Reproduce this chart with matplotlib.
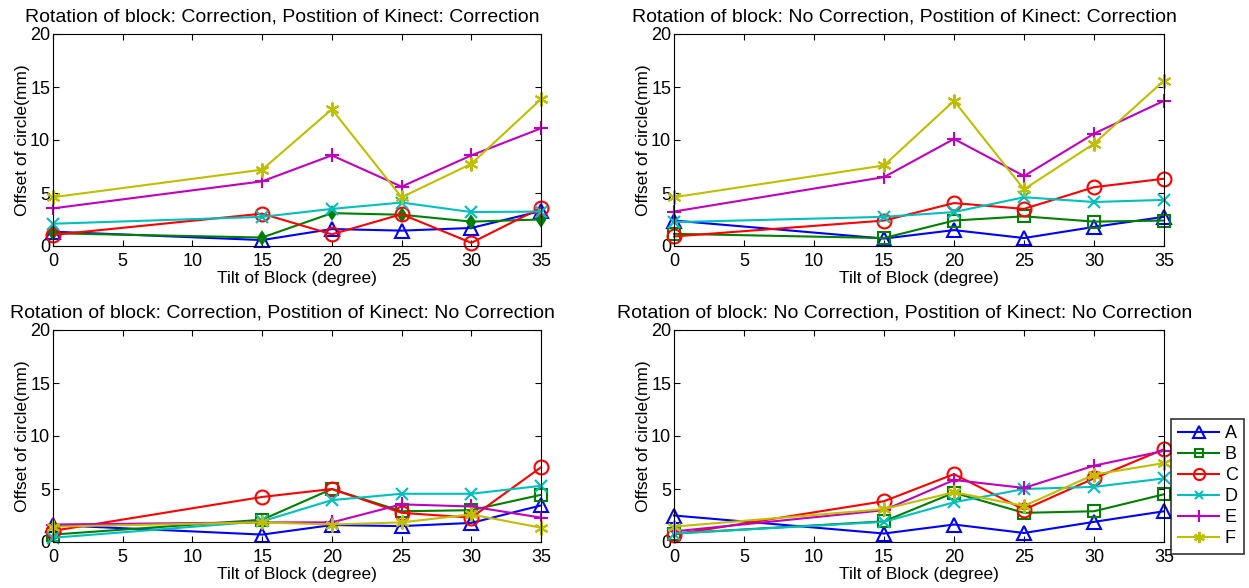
import matplotlib
matplotlib.use("Agg")
import matplotlib.pyplot as plt

plt.rcParams['font.family'] = ['Liberation Sans', 'DejaVu Sans']

# Tilt angles (x axis)
tilt = [0, 15, 20, 25, 30, 35]
labels = ['A', 'B', 'C', 'D', 'E', 'F']

titles = [
    'Rotation of block: Correction, Postition of Kinect: Correction',
    'Rotation of block: No Correction, Postition of Kinect: Correction',
    'Rotation of block: Correction, Postition of Kinect: No Correction',
    'Rotation of block: No Correction, Postition of Kinect: No Correction',
]

# rot corr / kinect corr
cc_A = [1.35, 0.56, 1.6, 1.45, 1.7, 3.3]
cc_B = [1.2, 0.8, 3.1, 2.95, 2.3, 2.5]
cc_C = [1.05, 3.05, 1.1, 3.0, 0.3, 3.6]
cc_D = [2.1, 2.75, 3.5, 4.1, 3.2, 3.25]
cc_E = [3.55, 6.1, 8.55, 5.6, 8.55, 11.1]
cc_F = [4.6, 7.2, 12.9, 4.6, 7.75, 13.85]

# rot no corr / kinect corr
nc_A = [2.4, 0.7, 1.5, 0.75, 1.8, 2.75]
nc_B = [1.15, 0.75, 2.4, 2.8, 2.3, 2.4]
nc_C = [0.9, 2.4, 4.05, 3.5, 5.55, 6.35]
nc_D = [2.25, 2.75, 3.2, 4.6, 4.15, 4.35]
nc_E = [3.25, 6.5, 10.1, 6.6, 10.6, 13.7]
nc_F = [4.6, 7.6, 13.7, 5.35, 9.65, 15.6]

# rot corr / kinect no corr
cn_A = [1.6, 0.7, 1.6, 1.5, 1.8, 3.45]
cn_B = [0.7, 2.1, 5.0, 2.9, 3.0, 4.45]
cn_C = [1.05, 4.25, 5.0, 2.75, 2.3, 7.05]
cn_D = [0.4, 1.95, 3.95, 4.55, 4.55, 5.3]
cn_E = [1.65, 1.85, 1.85, 3.55, 3.35, 2.3]
cn_F = [1.45, 1.85, 1.65, 1.85, 2.6, 1.35]

# rot no corr / kinect no corr
nn_A = [2.5, 0.8, 1.65, 0.85, 1.9, 2.9]
nn_B = [0.8, 1.95, 4.65, 2.75, 2.9, 4.5]
nn_C = [0.7, 3.85, 6.4, 3.05, 6.0, 8.75]
nn_D = [0.8, 1.9, 3.75, 5.0, 5.2, 6.0]
nn_E = [1.0, 3.0, 5.85, 5.1, 7.2, 8.6]
nn_F = [1.45, 3.1, 4.7, 3.4, 6.35, 7.45]

panels = [
    [cc_A, cc_B, cc_C, cc_D, cc_E, cc_F],
    [nc_A, nc_B, nc_C, nc_D, nc_E, nc_F],
    [cn_A, cn_B, cn_C, cn_D, cn_E, cn_F],
    [nn_A, nn_B, nn_C, nn_D, nn_E, nn_F],
]

colors = ['#0000ff', '#008000', '#ff0000', '#00bfbf', '#bf00bf', '#bfbf00']
markers = ['^', 's', 'o', 'x', '+', (6, 2, 0)]
msizes = [10, 8, 10, 8, 10, 10]

fig = plt.figure(figsize=(12.49, 5.88), dpi=100)

# axes boxes in pixels: left, top, right, bottom
boxes = [(53, 34, 541, 246), (674, 34, 1164, 246),
         (53, 330, 541, 542), (674, 330, 1164, 542)]

lines = []
for k, (l, t, r, b) in enumerate(boxes):
    ax = fig.add_axes([l / 1249, 1 - b / 588, (r - l) / 1249, (b - t) / 588])
    for i, series in enumerate(panels[k]):
        mk = markers[i]
        ms = msizes[i]
        filled = False
        if k == 0 and i == 1:
            # this panel uses small filled diamonds for B
            mk = 'd'
            ms = 6
            filled = True
        h, = ax.plot(tilt, series, color=colors[i], marker=mk, markersize=ms,
                     markerfacecolor=colors[i] if filled else 'none',
                     markeredgewidth=1.5, linewidth=1.5, label=labels[i],
                     clip_on=False)
        if k == 3:
            lines.append(h)
    ax.set_xlim(0, 35)
    ax.set_ylim(0, 20)
    ax.set_xticks([0, 5, 10, 15, 20, 25, 30, 35])
    ax.set_yticks([0, 5, 10, 15, 20])
    ax.tick_params(direction='in', top=True, right=True, labelsize=13,
                   length=4, pad=2)
    ax.tick_params(axis='x', pad=5)
    ax.set_title(titles[k], fontsize=14, pad=9, x=0.47)
    ax.set_xlabel('Tilt of Block (degree)', fontsize=12.5, labelpad=1)
    ax.set_ylabel('Offset of circle(mm)', fontsize=12.5, labelpad=0)

leg = fig.legend(lines, labels, loc='upper right',
                 bbox_to_anchor=(1244 / 1249, 1 - 419 / 588),
                 fontsize=13, handlelength=2.3, frameon=True, fancybox=False,
                 edgecolor='black', borderpad=0.35, labelspacing=0.22,
                 handletextpad=0.3, borderaxespad=0, markerscale=0.8)
leg.get_frame().set_linewidth(1.2)

fig.savefig('out.png', dpi=100)
